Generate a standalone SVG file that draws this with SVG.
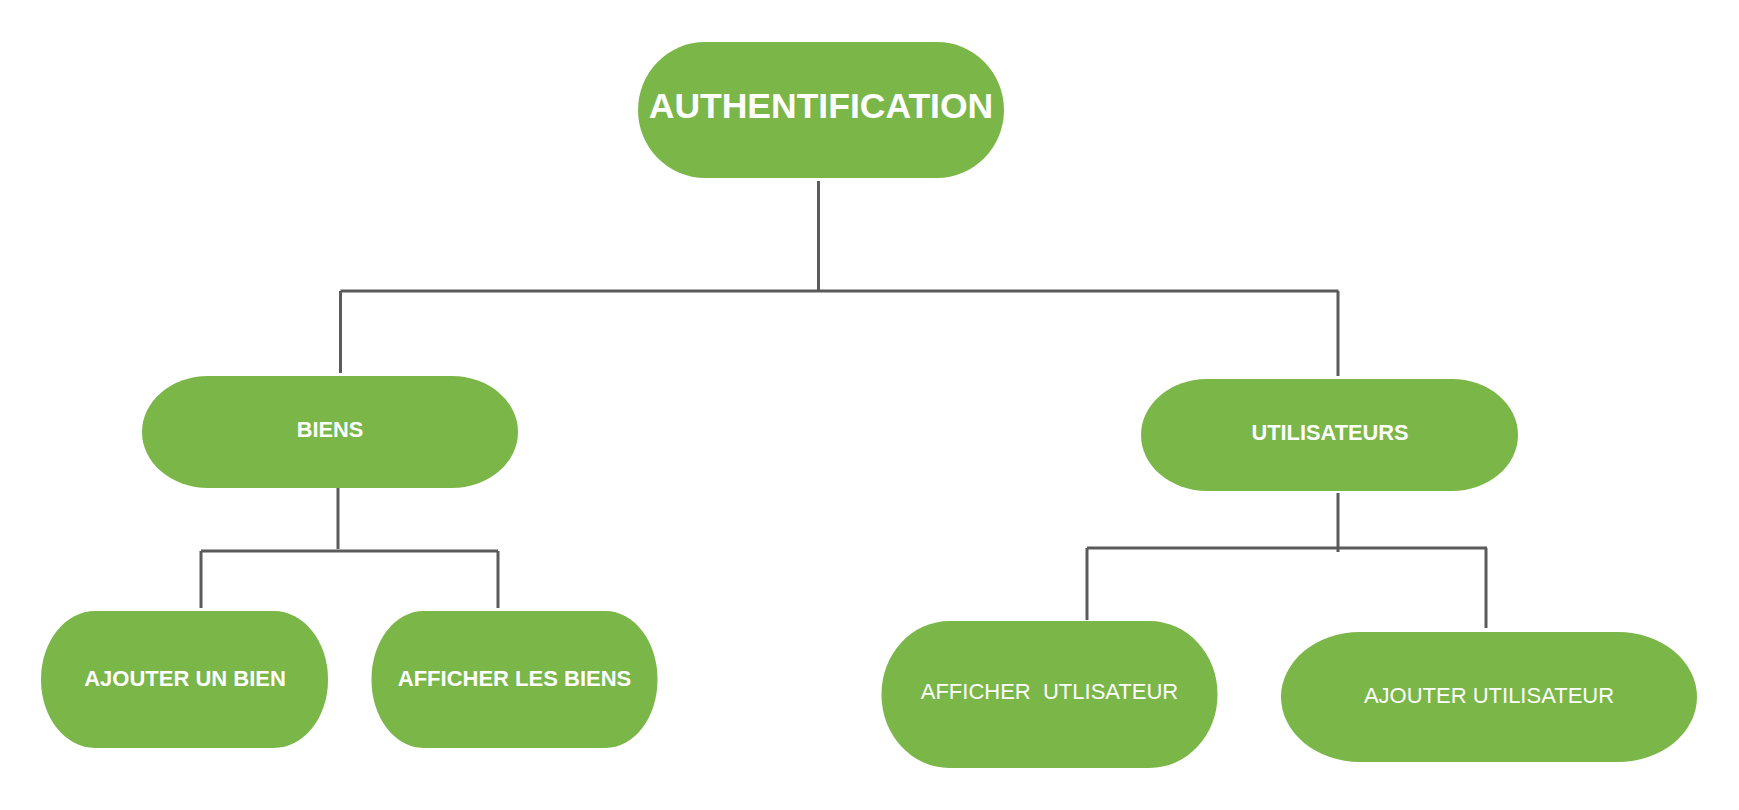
<svg xmlns="http://www.w3.org/2000/svg" width="1739" height="810" viewBox="0 0 1739 810">
<style>
.n{fill:#7ab648}
.t{fill:#ffffff;font-family:"Liberation Sans",Arial,sans-serif;text-anchor:middle}
.b{font-weight:bold}
.c{fill:none;stroke:#5b5b5b;stroke-width:3}
</style>
<rect width="1739" height="810" fill="#ffffff"/>
<g id="connectors">
<path class="c" d="M818.5 181V291"/>
<path class="c" d="M340.5 291H1338.5"/>
<path class="c" d="M340.5 291V373"/>
<path class="c" d="M1338 291V376"/>
<path class="c" d="M338 488V549"/>
<path class="c" d="M201 551H498"/>
<path class="c" d="M201 551V608"/>
<path class="c" d="M498 551V608"/>
<path class="c" d="M1338 493V552"/>
<path class="c" d="M1087 548H1487"/>
<path class="c" d="M1087 548V620"/>
<path class="c" d="M1486 548V628"/>
</g>
<g id="authentification">
<rect class="n" x="638" y="42" width="366" height="136" rx="67" ry="68"/>
<text class="t b" x="821" y="118" font-size="35.5">AUTHENTIFICATION</text>
</g>
<g id="biens">
<rect class="n" x="142" y="376" width="376" height="112" rx="66" ry="56"/>
<text class="t b" x="330" y="437" font-size="21.8">BIENS</text>
</g>
<g id="utilisateurs">
<rect class="n" x="1141" y="379" width="377" height="112" rx="66" ry="56"/>
<text class="t b" x="1330" y="440" font-size="21.8">UTILISATEURS</text>
</g>
<g id="ajouter-un-bien">
<rect class="n" x="41" y="611" width="287" height="137" rx="54" ry="68"/>
<text class="t b" x="185" y="686" font-size="22">AJOUTER UN BIEN</text>
</g>
<g id="afficher-les-biens">
<rect class="n" x="371.5" y="611" width="286" height="137" rx="52" ry="68"/>
<text class="t b" x="514.5" y="686" font-size="22">AFFICHER LES BIENS</text>
</g>
<g id="afficher-utlisateur">
<rect class="n" x="881.5" y="621" width="336" height="147" rx="68" ry="73"/>
<text class="t" x="1049.5" y="699" font-size="22" xml:space="preserve" style="white-space:pre">AFFICHER  UTLISATEUR</text>
</g>
<g id="ajouter-utilisateur">
<rect class="n" x="1281" y="632" width="416" height="130" rx="79" ry="65"/>
<text class="t" x="1489" y="703" font-size="22">AJOUTER UTILISATEUR</text>
</g>
</svg>
